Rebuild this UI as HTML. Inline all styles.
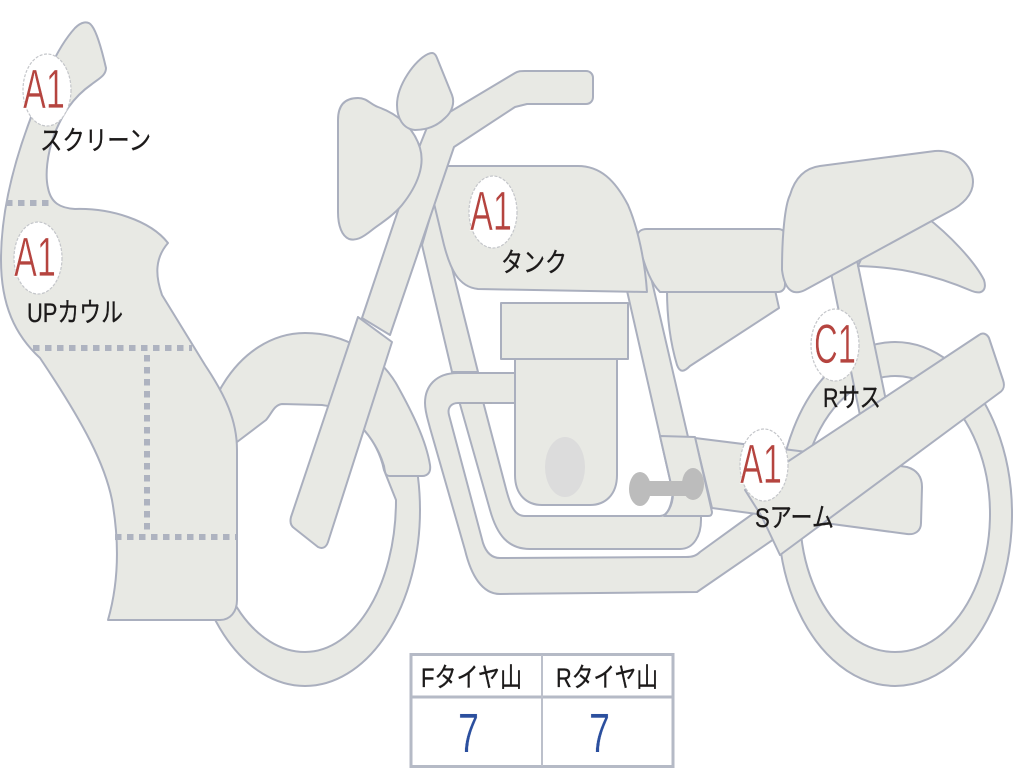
<!DOCTYPE html>
<html lang="ja">
<head>
<meta charset="utf-8">
<title>バイク図</title>
<style>
html,body{margin:0;padding:0;background:#fff;width:1024px;height:768px;overflow:hidden}
svg{display:block;position:absolute;left:0;top:0}
.s{fill:#e8e9e4;stroke:#aaafbe;stroke-width:2;stroke-linejoin:round}
.h{fill:#fff;stroke:#aaafbe;stroke-width:2;stroke-linejoin:round}
.d{fill:none;stroke:#aeb3c0;stroke-width:6;stroke-dasharray:6.5 5.5}
.c{fill:#fff;stroke:#c4c6ca;stroke-width:1.2;stroke-dasharray:3 1.5}
.b{font-family:"Liberation Sans",sans-serif;font-size:56px;fill:#b5443f;stroke:#fff;stroke-width:.7}
.l{font-family:"Liberation Sans","Noto Sans CJK JP",sans-serif;font-size:27px;fill:#1c1a1a;stroke:#1c1a1a;stroke-width:.3}
.n{font-family:"Liberation Sans",sans-serif;font-size:56px;fill:#2b4f9e;stroke:#fff;stroke-width:.4}
</style>
</head>
<body>
<svg width="1024" height="768" viewBox="0 0 1024 768" xmlns="http://www.w3.org/2000/svg">
<defs><filter id="soft" x="-2%" y="-2%" width="104%" height="104%"><feGaussianBlur stdDeviation="0.35"/></filter></defs>
<g filter="url(#soft)">

<!-- front wheel -->
<ellipse class="s" cx="305" cy="510" rx="115" ry="176"/>
<path class="h" d="M396 500C396 585 355 652 305 652C255 652 214 590 214 528L214 400L322 402C352 407 378 440 384 470Z"/>
<path class="s" d="M217 395C240 350 275 333 305 333C345 333 380 355 397 385C412 412 426 440 430 465C431 472 428 476 422 476L390 476C385 476 385 472 384 466C376 438 350 408 322 405L282 404C274 405 272 413 266 420L237 442Z"/>

<!-- rear wheel -->
<path d="M895 342a117 172 0 1 0 .01 0ZM895 376a95 138 0 1 1 -.01 0Z" fill-rule="evenodd" class="s"/>

<!-- rear shock -->
<path class="s" d="M828 258L854 246L890 420L865 440Z"/>

<!-- inner frame tube -->
<path class="s" d="M456 390L490 510C497 535 508 549 530 549L680 549C694 549 701 535 701 520L701 510L673 490C672 505 668 516 660 516L525 516C514 516 510 505 505 485L480 390Z"/>

<!-- front down tube and rear down tube -->
<path class="s" d="M422 245L435 200L478 372L452 372Z"/>
<path class="s" d="M620 260L647 260L688 437L690 480L673 493Z"/>

<!-- exhaust -->
<path class="s" d="M516 373L458 373C435 373 425 387 425 403C425 412 428 420 430 428L465 550C471 575 482 594 500 594L697 592L790 528L775 498L740 523L700 552C696 556 692 557 686 557L500 558C491 558 486 552 483 543L449 415C447 407 452 403 458 403L516 403Z"/>
<path d="M470 403L492 403" stroke="#a9adb8" stroke-width="1.5" fill="none"/>

<!-- engine -->
<path class="s" d="M515 355L617 355L617 475C617 495 605 505 590 505L542 505C527 505 515 495 515 475Z"/>
<rect class="s" x="501" y="303" width="127" height="56"/>
<ellipse cx="565" cy="467" rx="20" ry="30" fill="#dcdcdc"/>

<!-- swing arm -->
<path class="s" d="M695 438L807 452L907 467C917 470 922 477 922 487L921 523C921 531 915 535 907 534L712 508Z"/>
<!-- plate -->
<path class="s" d="M660 436L695 437L712 512C712 515 711 516 708 516L664 516C670 510 673 503 673 493Z"/>
<!-- dumbbell -->
<rect x="648" y="481" width="38" height="15" fill="#bcbcbc"/>
<ellipse cx="640" cy="489" rx="11" ry="17" fill="#bcbcbc"/>
<ellipse cx="693" cy="484" rx="11" ry="16" fill="#bcbcbc"/>

<!-- muffler -->
<path class="s" d="M979 335C983 332 987 334 989 338L1003 380C1005 386 1004 390 999 393L780 555L762 517L745 490Z"/>

<!-- side cover -->
<path class="s" d="M667 290L775 290L779 308L690 366C684 372 680 373 677 365C671 345 667 320 667 290Z"/>
<!-- tail -->
<path class="s" d="M925 216C950 235 975 262 984 280C987 290 982 295 972 291C930 273 895 267 858 266L870 240Z"/>
<!-- side panel -->
<path class="s" d="M637 238C637 232 641 229 647 229L778 229C783 229 785 232 785 236L785 285C785 289 782 292 778 292L660 292C652 284 646 272 637 238Z"/>
<!-- seat -->
<path class="s" d="M782 270C782 235 785 205 790 195C795 178 805 168 820 166L935 151C955 149 973 165 973 182C973 195 962 205 950 211L805 290C795 295 785 293 782 270Z"/>

<!-- tank -->
<path class="s" d="M440 166L578 166C600 166 615 180 628 205C638 228 645 262 647 292L478 289C458 287 450 268 444 245L432 195Z"/>

<!-- fork and handlebar -->
<path class="s" d="M362 318L420 145L428 125L515 73C518 71 521 71 525 71L586 71C590 71 593 74 593 78L593 97C593 101 590 104 586 104L527 104L515 107L454 147L390 335Z"/>
<path class="s" d="M358 317L392 342L328 542C326 548 322 549 318 547L294 528C290 525 290 521 291 517Z"/>
<!-- headlight -->
<path class="s" d="M338 120C338 105 345 98 358 98C367 98 370 104 378 107C398 114 414 128 420 148C425 165 418 185 402 205C392 217 378 225 372 230C362 238 356 241 349 239C342 236 338 226 338 212Z"/>
<!-- speedometer -->
<path class="s" d="M397 105C397 85 415 60 428 54C433 52 435 53 437 58L452 95C455 103 452 112 445 118C436 127 425 130 415 130C403 129 397 118 397 105Z"/>

<!-- cowl -->
<path class="s" d="M75 28C81 22 88 20 92 26C98 34 103 55 106 68C106 75 100 78 92 84C72 98 62 115 54 135C47 155 45 175 48 188C51 203 60 208 75 209C110 208 150 220 168 243C155 258 155 275 162 295L205 365C225 395 237 420 237 450L237 600C237 612 230 620 220 620L108 620C118 585 120 545 112 500C105 465 85 425 40 358C15 335 1 305 1 260C1 210 15 160 30 120C42 85 55 50 75 28Z"/>
<path class="d" d="M6 203L50 203"/>
<path class="d" d="M33 348L192 348"/>
<path class="d" d="M147 355L147 532"/>
<path class="d" d="M115 537L236 537"/>
</g>

<!-- table -->
<g filter="url(#soft)">
<rect x="411" y="654.500" width="262" height="112" fill="#fff" stroke="#b5bac6" stroke-width="3"/>
<path d="M411 697L673 697" stroke="#b5bac6" stroke-width="3" fill="none"/>
<path d="M542 655L542 766" stroke="#bcc0cb" stroke-width="2" fill="none"/>
</g>
<text class="l" x="421" y="687" textLength="101" lengthAdjust="spacingAndGlyphs">Fタイヤ山</text>
<text class="l" x="556" y="687" textLength="102" lengthAdjust="spacingAndGlyphs">Rタイヤ山</text>
<text class="n" x="458" y="752" textLength="21" lengthAdjust="spacingAndGlyphs">7</text>
<text class="n" x="589" y="752" textLength="21" lengthAdjust="spacingAndGlyphs">7</text>

<!-- badges -->
<ellipse class="c" cx="47" cy="90" rx="24" ry="36"/>
<text class="b" x="23" y="108" textLength="42" lengthAdjust="spacingAndGlyphs">A1</text>
<ellipse class="c" cx="38" cy="258" rx="24" ry="36"/>
<text class="b" x="14" y="276" textLength="42" lengthAdjust="spacingAndGlyphs">A1</text>
<ellipse class="c" cx="493" cy="212" rx="24" ry="36"/>
<text class="b" x="470" y="230" textLength="42" lengthAdjust="spacingAndGlyphs">A1</text>
<ellipse class="c" cx="835" cy="345" rx="24" ry="36"/>
<text class="b" x="814" y="363" textLength="42" lengthAdjust="spacingAndGlyphs">C1</text>
<ellipse class="c" cx="764" cy="465" rx="24" ry="36"/>
<text class="b" x="740" y="483" textLength="42" lengthAdjust="spacingAndGlyphs">A1</text>

<!-- labels -->
<text class="l" x="40" y="150" textLength="111" lengthAdjust="spacingAndGlyphs">スクリーン</text>
<text class="l" x="27" y="322" textLength="96" lengthAdjust="spacingAndGlyphs">UPカウル</text>
<text class="l" x="501" y="272" textLength="66" lengthAdjust="spacingAndGlyphs">タンク</text>
<text class="l" x="823" y="407" textLength="58" lengthAdjust="spacingAndGlyphs">Rサス</text>
<text class="l" x="755" y="527" textLength="79" lengthAdjust="spacingAndGlyphs">Sアーム</text>
</svg>
</body>
</html>
